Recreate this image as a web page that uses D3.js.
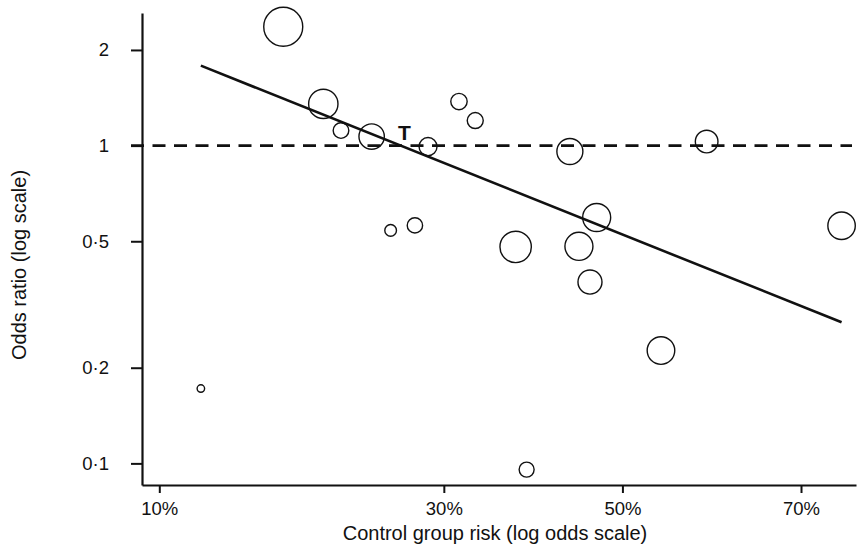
<!DOCTYPE html>
<html>
<head>
<meta charset="utf-8">
<script src="https://cdn.jsdelivr.net/npm/d3@7"></script>
<style>
  html, body { margin: 0; padding: 0; background: #fff; }
  svg { display: block; }
  text { font-family: "Liberation Sans", Arial, sans-serif; fill: #111; }
</style>
</head>
<body>
<svg id="chart" width="857" height="548"></svg>
<script>
// ---- Data ----
const controlRisk = [0.1667, 0.1948, 0.2083, 0.2333, 0.2845, 0.3153, 0.3322, 0.2498, 0.2720, 0.3760,
                     0.3883, 0.4380, 0.4486, 0.4695, 0.4616, 0.5456, 0.5986, 0.7388, 0.1192];
const oddsRatio   = [2.367, 1.353, 1.115, 1.068, 0.993, 1.376, 1.199, 0.541, 0.561, 0.480,
                     0.0956, 0.958, 0.482, 0.594, 0.372, 0.2265, 1.030, 0.5595, 0.172];
const weight      = [380, 215, 61, 161, 81, 67, 64, 34, 59, 246,
                     56, 169, 196, 196, 144, 190, 128, 188, 14];
// regression: ln(OR) = intercept + slope * logit(risk)
const regIntercept = -0.644;
const regSlope = -0.6117;
const regLabel = "T";
const xTickRisks = [0.10, 0.30, 0.50, 0.70];
const xTickLabels = ["10%", "30%", "50%", "70%"];
const yTickValues = [0.1, 0.2, 0.5, 1, 2];
const yTickLabels = ["0·1", "0·2", "0·5", "1", "2"];
const xTitle = "Control group risk (log odds scale)";
const yTitle = "Odds ratio (log scale)";

// ---- Layout ----
const svg = d3.select("#chart");
const plotL = 142, plotR = 856, plotT = 13, plotB = 485;
const logit = p => Math.log(p / (1 - p));

const x = d3.scaleLinear().domain([-2.2793, 1.1082]).range([plotL, plotR]);
const y = d3.scaleLog().domain([0.0855, 2.614]).range([plotB, plotT]);
const r = d3.scaleSqrt().domain([0, d3.max(weight)]).range([0, 19.5]);

const fontSize = 18.5;
const titleSize = 20;

// Axes
const xAxis = d3.axisBottom(x)
  .tickValues(xTickRisks.map(logit))
  .tickFormat((d, i) => xTickLabels[i])
  .tickSize(8).tickSizeOuter(0).tickPadding(9);
const gx = svg.append("g").attr("transform", `translate(0,${plotB})`).call(xAxis);

const yAxis = d3.axisLeft(y)
  .tickValues(yTickValues)
  .tickFormat((d, i) => yTickLabels[i])
  .tickSize(11).tickSizeOuter(0).tickPadding(22);
const gy = svg.append("g").attr("transform", `translate(${plotL},0)`).call(yAxis);

[gx, gy].forEach(g => {
  g.select(".domain").attr("stroke", "#111").attr("stroke-width", 2.2);
  g.selectAll(".tick line").attr("stroke", "#111").attr("stroke-width", 2);
  g.selectAll(".tick text").attr("font-size", fontSize)
    .attr("font-family", "'Liberation Sans', Arial, sans-serif").attr("fill", "#111");
});

// Reference line OR = 1 (dashed)
svg.append("line")
  .attr("x1", plotL - 11).attr("x2", 852)
  .attr("y1", y(1)).attr("y2", y(1))
  .attr("stroke", "#111").attr("stroke-width", 2.8)
  .attr("stroke-dasharray", "13,8.5");

// Regression line across the range of the data
const [minL, maxL] = d3.extent(controlRisk.map(logit));
const regLine = [minL, maxL].map(l => [x(l), y(Math.exp(regIntercept + regSlope * l))]);
svg.append("path")
  .attr("d", d3.line()(regLine))
  .attr("fill", "none").attr("stroke", "#111").attr("stroke-width", 2.6);

// T label at crossing with OR = 1
const crossL = -regIntercept / regSlope;
svg.append("text")
  .attr("x", x(crossL) + 4).attr("y", y(1) - 6)
  .attr("text-anchor", "middle")
  .attr("font-size", 21).attr("font-weight", "bold")
  .text(regLabel);

// Circles
svg.append("g").selectAll("circle")
  .data(controlRisk.map((p, i) => ({ p, or: oddsRatio[i], w: weight[i] })))
  .join("circle")
  .attr("cx", d => x(logit(d.p)))
  .attr("cy", d => y(d.or))
  .attr("r", d => r(d.w))
  .attr("fill", "none").attr("stroke", "#111").attr("stroke-width", 1.4);

// Titles
svg.append("text")
  .attr("x", 495).attr("y", 540)
  .attr("text-anchor", "middle").attr("font-size", titleSize)
  .text(xTitle);
svg.append("text")
  .attr("transform", "translate(26,265) rotate(-90)")
  .attr("text-anchor", "middle").attr("font-size", titleSize)
  .text(yTitle);
</script>
</body>
</html>
